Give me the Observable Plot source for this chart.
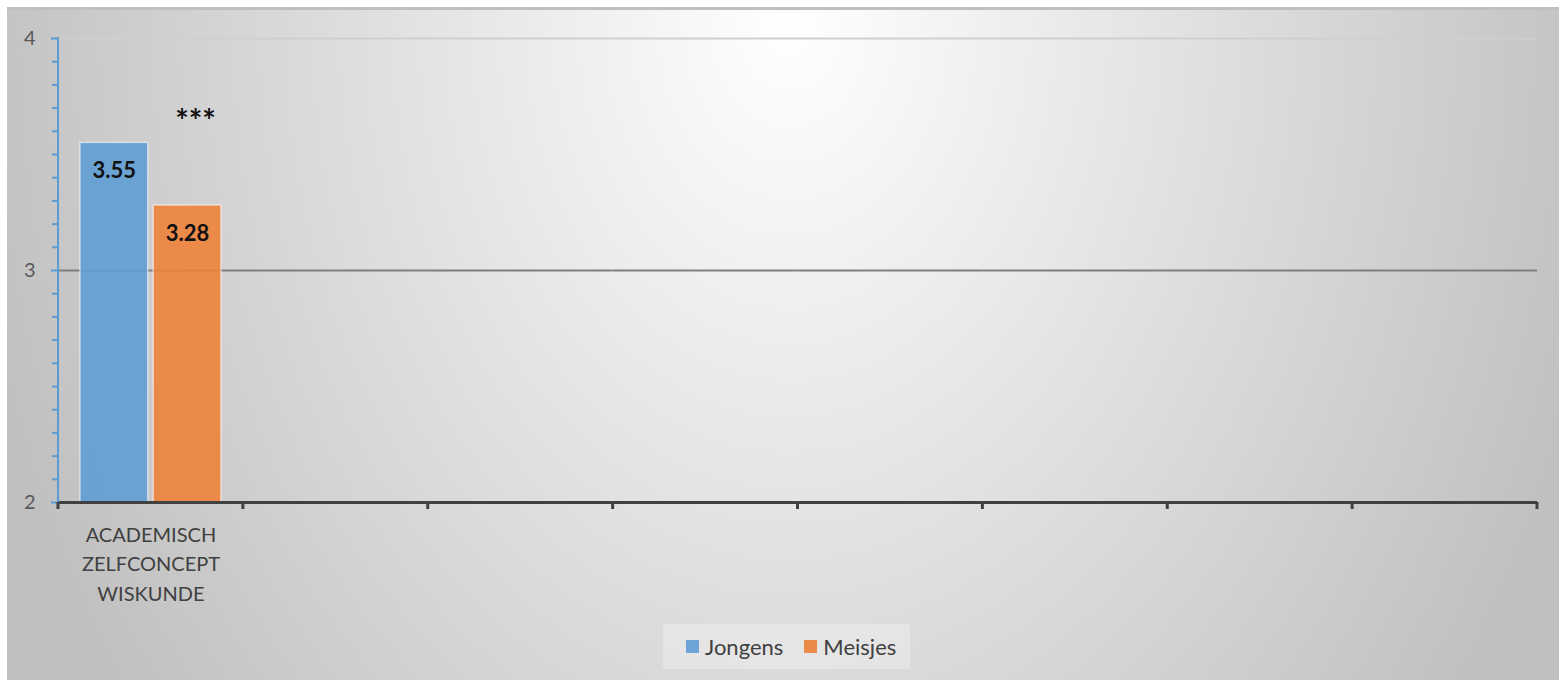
<!DOCTYPE html>
<html>
<head>
<meta charset="utf-8">
<script src="https://cdn.jsdelivr.net/npm/d3@7"></script>
<script src="https://cdn.jsdelivr.net/npm/@observablehq/plot@0.6"></script>
<style>
html, body { margin: 0; padding: 0; overflow: hidden; background: #ffffff; }
#wrap { position: relative; width: 1559px; height: 680px; background: #ffffff; font-family: Lato, "Open Sans", sans-serif; }
#bg { position: absolute; left: 7px; top: 7px; width: 1552px; height: 673px; box-sizing: border-box;
      border-top: 3px solid #bfbfbf;
      background: radial-gradient(ellipse 850px 1150px at 783px 10px, #ffffff 0%, #bfbfbf 100%); }
#chart { position: absolute; left: 0; top: 0; }
#legend { position: absolute; left: 663px; top: 624px; width: 247px; height: 45px; box-sizing: border-box;
          background: rgba(255,255,255,0.28); display: flex; align-items: center; padding-left: 23px;
          font-size: 22px; color: #404040; }
.item { display: flex; align-items: center; }
.sw { width: 13px; height: 13px; margin-right: 6px; }
</style>
</head>
<body>
<div id="wrap">
  <div id="bg"></div>
  <div id="chart"></div>
  <div id="legend"></div>
</div>
<script>
// ---- data ----
const categories = ["ACADEMISCH\nZELFCONCEPT\nWISKUNDE", "", "", "", "", "", "", ""];
const series = ["Jongens", "Meisjes"];
const jongens = [3.55];
const meisjes = [3.28];
const significance = ["***"];
const yTicks = [2, 3, 4];
const yMinorTicks = [2.1, 2.2, 2.3, 2.4, 2.5, 2.6, 2.7, 2.8, 2.9, 3.1, 3.2, 3.3, 3.4, 3.5, 3.6, 3.7, 3.8, 3.9];
const colors = ["#619DD5", "#ED823A"];
const legendColors = ["#6DA3D6", "#EB8B4A"];

// ---- build table (every category gets a row so that its facet exists) ----
const rows = [];
categories.forEach((c, i) => {
  rows.push({cat: i, series: "Jongens", value: jongens[i]});
  rows.push({cat: i, series: "Meisjes", value: meisjes[i]});
});
const valued = rows.filter(d => d.value != null);
const slots = rows.filter(d => d.series === "Jongens");
const sig = significance.map((s, i) => ({cat: i, series: "Meisjes", value: meisjes[i], label: s}));

const chart = Plot.plot({
  width: 1559, height: 615,
  marginLeft: 58, marginRight: 22, marginTop: 38, marginBottom: 113,
  style: {background: "transparent", fontFamily: "Lato, 'Open Sans', sans-serif", overflow: "visible"},
  fx: {domain: categories.map((c, i) => i), padding: 0, round: false},
  x: {domain: series, paddingInner: 0.075, paddingOuter: 0.3, round: false, axis: null},
  y: {domain: [2, 4]},
  color: {domain: series, range: colors},
  marks: [
    Plot.ruleY(slots, {fx: "cat", y: () => 4, stroke: "#cfcfcf", strokeWidth: 2}),
    Plot.ruleY(slots, {fx: "cat", y: () => 3, stroke: "#7f7f7f", strokeWidth: 2}),
    Plot.barY(valued, {fx: "cat", x: "series", y1: 2, y2: "value", fill: "series", fillOpacity: 0.9,
                     stroke: "#ffffff", strokeOpacity: 0.55, strokeWidth: 1.5}),
    Plot.text(valued, {fx: "cat", x: "series", y: "value", text: d => d.value.toFixed(2), dy: 28,
                     fontSize: 22, fontWeight: "bold", fill: "#111111"}),
    Plot.text(sig, {fx: "cat", x: "series", y: "value", text: "label", dy: -83, dx: 8,
                    fontSize: 32, fontWeight: "bold", fill: "#111111"}),
    Plot.ruleY(slots, {fx: "cat", y: () => 2, stroke: "#404040", strokeWidth: 3}),
    Plot.axisY({ticks: yMinorTicks, tickSize: 6, tickFormat: () => "", label: null, stroke: "#5B9BD5", strokeWidth: 2}),
    Plot.axisY({ticks: yTicks, tickSize: 7, tickPadding: 16, label: null, stroke: "#5B9BD5", strokeWidth: 2,
                fill: "#595959", fontSize: 20, tickFormat: d => String(d)}),
    Plot.axisFx({anchor: "bottom", label: null, tickSize: 0, tickPadding: 18, tickFormat: i => categories[i],
                 fontSize: 20, lineHeight: 1.48, fill: "#404040"})
  ]
});

// extra axis lines using the plot's scales
const svg = d3.select(chart);
const fx = chart.scale("fx"), y = chart.scale("y");
const dom = fx.domain;
const bounds = dom.map(d => fx.apply(d)).concat([fx.apply(dom[dom.length - 1]) + fx.bandwidth]);
const g = svg.append("g");
g.append("line").attr("x1", bounds[0]).attr("x2", bounds[0])
  .attr("y1", y.apply(4) - 1).attr("y2", y.apply(2))
  .attr("stroke", "#5B9BD5").attr("stroke-width", 2);
g.selectAll("line.bt").data(bounds).join("line").attr("class", "bt")
  .attr("x1", d => d).attr("x2", d => d)
  .attr("y1", y.apply(2)).attr("y2", y.apply(2) + 7)
  .attr("stroke", "#404040").attr("stroke-width", 3);

document.getElementById("chart").appendChild(chart);

// legend
const lg = document.getElementById("legend");
series.forEach((s, i) => {
  const it = document.createElement("div");
  it.className = "item";
  if (i > 0) it.style.marginLeft = "21px";
  const sw = document.createElement("div");
  sw.className = "sw";
  sw.style.background = legendColors[i];
  const t = document.createElement("span");
  t.textContent = s;
  it.appendChild(sw); it.appendChild(t);
  lg.appendChild(it);
});
</script>
</body>
</html>
